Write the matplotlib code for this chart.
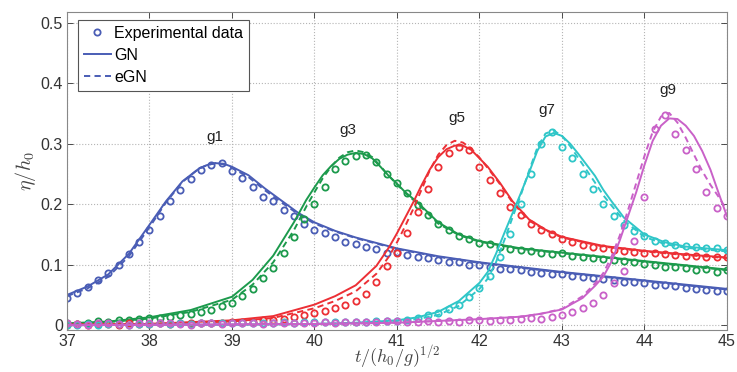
import numpy as np
import matplotlib
matplotlib.use("Agg")
import matplotlib.pyplot as plt
from matplotlib.ticker import FuncFormatter

plt.rcParams['font.family'] = ['Liberation Sans', 'DejaVu Sans']
plt.rcParams['mathtext.fontset'] = 'cm'

# colours of the five gauges
col = {'g1': '#4a5db5', 'g3': '#1c9a4c', 'g5': '#ec2f35', 'g7': '#2fc6c8', 'g9': '#c961c8'}

# ---- model curves (GN solid, eGN dashed) ----
t_g1 = [37.0, 37.25, 37.5, 37.75, 38.0, 38.2, 38.4, 38.6, 38.7, 38.8, 38.9, 39.0, 39.2, 39.4,
        39.6, 39.8, 40.0, 40.25, 40.5, 41.0, 41.5, 42.0, 42.5, 43.0, 43.5, 44.0, 44.5, 45.0]
gn_g1 = [0.050, 0.064, 0.084, 0.118, 0.166, 0.205, 0.238, 0.259, 0.265, 0.268, 0.267, 0.262, 0.248, 0.226,
         0.206, 0.186, 0.170, 0.156, 0.145, 0.127, 0.114, 0.104, 0.096, 0.088, 0.081, 0.074, 0.067, 0.060]
egn_g1 = [0.048, 0.061, 0.080, 0.114, 0.162, 0.203, 0.237, 0.259, 0.265, 0.268, 0.266, 0.260, 0.245, 0.223,
          0.203, 0.184, 0.168, 0.155, 0.144, 0.126, 0.113, 0.103, 0.095, 0.087, 0.080, 0.073, 0.066, 0.059]

t_g3 = [37.0, 37.5, 38.0, 38.5, 39.0, 39.25, 39.5, 39.75, 39.9, 40.0, 40.1, 40.2, 40.3, 40.4, 40.5, 40.6,
        40.7, 40.8, 40.9, 41.0, 41.1, 41.25, 41.5, 41.75, 42.0, 42.5, 43.0, 43.5, 44.0, 44.5, 45.0]
gn_g3 = [0.003, 0.006, 0.013, 0.025, 0.047, 0.075, 0.115, 0.170, 0.207, 0.228, 0.248, 0.263, 0.275, 0.282, 0.285, 0.283,
         0.276, 0.262, 0.247, 0.234, 0.220, 0.203, 0.170, 0.150, 0.139, 0.127, 0.120, 0.113, 0.106, 0.099, 0.092]
egn_g3 = [0.002, 0.005, 0.011, 0.022, 0.042, 0.067, 0.104, 0.157, 0.196, 0.220, 0.243, 0.262, 0.277, 0.286, 0.289, 0.286,
          0.278, 0.263, 0.247, 0.233, 0.219, 0.201, 0.168, 0.149, 0.138, 0.126, 0.119, 0.112, 0.105, 0.098, 0.091]

t_g5 = [37.0, 38.0, 39.0, 39.5, 40.0, 40.25, 40.5, 40.75, 40.9, 41.0, 41.1, 41.2, 41.3, 41.4, 41.5, 41.6,
        41.7, 41.8, 41.9, 42.0, 42.1, 42.25, 42.4, 42.6, 42.8, 43.0, 43.5, 44.0, 44.5, 45.0]
gn_g5 = [0.001, 0.002, 0.008, 0.015, 0.034, 0.048, 0.066, 0.098, 0.128, 0.152, 0.178, 0.204, 0.232, 0.258, 0.278, 0.291,
         0.297, 0.297, 0.290, 0.276, 0.262, 0.235, 0.205, 0.175, 0.158, 0.146, 0.131, 0.123, 0.117, 0.112]
egn_g5 = [0.001, 0.002, 0.006, 0.012, 0.028, 0.040, 0.056, 0.085, 0.113, 0.137, 0.164, 0.193, 0.225, 0.257, 0.282, 0.298,
          0.305, 0.302, 0.292, 0.277, 0.260, 0.233, 0.203, 0.173, 0.157, 0.145, 0.130, 0.122, 0.116, 0.111]

t_g7 = [37.0, 39.0, 40.0, 40.5, 41.0, 41.25, 41.5, 41.75, 42.0, 42.1, 42.2, 42.3, 42.4, 42.5, 42.6, 42.7, 42.8,
        42.9, 43.0, 43.1, 43.2, 43.3, 43.4, 43.5, 43.6, 43.75, 44.0, 44.25, 44.5, 44.75, 45.0]
gn_g7 = [0.000, 0.001, 0.002, 0.004, 0.008, 0.013, 0.022, 0.040, 0.070, 0.088, 0.118, 0.152, 0.185, 0.218, 0.252, 0.288, 0.312,
         0.318, 0.313, 0.300, 0.283, 0.265, 0.247, 0.224, 0.205, 0.178, 0.150, 0.137, 0.130, 0.127, 0.124]
egn_g7 = [0.000, 0.001, 0.002, 0.003, 0.006, 0.010, 0.017, 0.032, 0.060, 0.077, 0.104, 0.140, 0.178, 0.215, 0.255, 0.293, 0.317,
          0.322, 0.313, 0.296, 0.276, 0.256, 0.236, 0.215, 0.198, 0.173, 0.146, 0.134, 0.128, 0.125, 0.122]

t_g9 = [37.0, 40.0, 41.0, 41.5, 42.0, 42.5, 42.75, 43.0, 43.25, 43.4, 43.5, 43.6, 43.7, 43.8, 43.9, 44.0, 44.1,
        44.2, 44.3, 44.4, 44.5, 44.6, 44.7, 44.8, 44.9, 45.0]
gn_g9 = [0.000, 0.002, 0.004, 0.007, 0.010, 0.014, 0.019, 0.026, 0.045, 0.065, 0.080, 0.105, 0.140, 0.180, 0.220, 0.265, 0.305,
         0.330, 0.342, 0.341, 0.330, 0.313, 0.288, 0.257, 0.218, 0.180]
egn_g9 = [0.000, 0.002, 0.004, 0.007, 0.010, 0.014, 0.019, 0.027, 0.048, 0.069, 0.086, 0.113, 0.148, 0.190, 0.235, 0.280, 0.320,
          0.345, 0.351, 0.335, 0.310, 0.282, 0.255, 0.232, 0.212, 0.190]

# ---- experimental data (sampled every 0.125) ----
t_exp = np.linspace(37.0, 45.0, 65)
exp_g1 = [0.045, 0.053, 0.063, 0.074, 0.086, 0.099, 0.117, 0.138, 0.158, 0.180, 0.205, 0.224, 0.242, 0.256, 0.265, 0.268,
          0.255, 0.243, 0.228, 0.212, 0.205, 0.190, 0.180, 0.167, 0.158, 0.152, 0.146, 0.138, 0.134, 0.130, 0.126, 0.120,
          0.121, 0.116, 0.112, 0.111, 0.108, 0.104, 0.104, 0.100, 0.100, 0.097, 0.093, 0.093, 0.091, 0.088, 0.087, 0.084,
          0.084, 0.081, 0.080, 0.078, 0.077, 0.075, 0.072, 0.071, 0.070, 0.067, 0.066, 0.064, 0.062, 0.059, 0.058, 0.056,
          0.056]
exp_g3 = [0.003, 0.002, 0.004, 0.007, 0.006, 0.008, 0.009, 0.010, 0.012, 0.012, 0.014, 0.016, 0.018, 0.021, 0.025, 0.031,
          0.037, 0.048, 0.060, 0.078, 0.095, 0.120, 0.146, 0.176, 0.200, 0.228, 0.258, 0.272, 0.280, 0.281, 0.270, 0.250,
          0.235, 0.218, 0.198, 0.183, 0.168, 0.157, 0.148, 0.143, 0.136, 0.134, 0.130, 0.126, 0.124, 0.122, 0.120, 0.118,
          0.119, 0.114, 0.112, 0.111, 0.110, 0.107, 0.106, 0.104, 0.101, 0.100, 0.097, 0.097, 0.095, 0.092, 0.093, 0.088,
          0.091]
exp_g5 = [0.001, 0.002, 0.001, 0.002, 0.002, 0.001, 0.003, 0.002, 0.002, 0.003, 0.002, 0.003, 0.004, 0.003, 0.004, 0.004,
          0.005, 0.005, 0.006, 0.008, 0.009, 0.011, 0.014, 0.016, 0.020, 0.024, 0.028, 0.033, 0.040, 0.052, 0.072, 0.098,
          0.120, 0.152, 0.188, 0.226, 0.262, 0.285, 0.295, 0.290, 0.262, 0.240, 0.218, 0.195, 0.182, 0.168, 0.157, 0.150,
          0.143, 0.137, 0.132, 0.129, 0.128, 0.125, 0.123, 0.121, 0.120, 0.120, 0.117, 0.116, 0.115, 0.114, 0.113, 0.112,
          0.112]
exp_g7 = [0.001, 0.001, 0.002, 0.001, 0.002, 0.002, 0.001, 0.002, 0.002, 0.003, 0.002, 0.003, 0.002, 0.003, 0.003, 0.004,
          0.003, 0.004, 0.004, 0.003, 0.004, 0.005, 0.004, 0.005, 0.005, 0.005, 0.006, 0.005, 0.006, 0.006, 0.007, 0.007,
          0.007, 0.009, 0.012, 0.016, 0.020, 0.026, 0.034, 0.046, 0.062, 0.082, 0.112, 0.150, 0.200, 0.250, 0.300, 0.320,
          0.295, 0.276, 0.250, 0.226, 0.200, 0.181, 0.166, 0.155, 0.147, 0.140, 0.136, 0.133, 0.131, 0.130, 0.128, 0.127,
          0.125]
exp_g9 = [0.003, 0.002, 0.001, 0.003, 0.004, 0.002, 0.001, 0.003, 0.003, 0.004, 0.003, 0.002, 0.001, 0.003, 0.003, 0.002,
          0.003, 0.004, 0.003, 0.002, 0.003, 0.004, 0.004, 0.003, 0.004, 0.005, 0.004, 0.005, 0.006, 0.005, 0.006, 0.007,
          0.007, 0.006, 0.005, 0.007, 0.005, 0.007, 0.006, 0.008, 0.009, 0.007, 0.009, 0.008, 0.010, 0.012, 0.011, 0.014,
          0.017, 0.021, 0.028, 0.036, 0.050, 0.069, 0.090, 0.140, 0.212, 0.325, 0.348, 0.316, 0.290, 0.258, 0.220, 0.194,
          0.180]

gauges = ['g1', 'g3', 'g5', 'g7', 'g9']
model_t = [t_g1, t_g3, t_g5, t_g7, t_g9]
model_gn = [gn_g1, gn_g3, gn_g5, gn_g7, gn_g9]
model_egn = [egn_g1, egn_g3, egn_g5, egn_g7, egn_g9]
exp_data = [exp_g1, exp_g3, exp_g5, exp_g7, exp_g9]

# label positions above each peak
lab_x = [38.79, 40.41, 41.73, 42.82, 44.28]
lab_y = [0.311, 0.323, 0.343, 0.356, 0.389]

fig = plt.figure(figsize=(7.37, 3.72), dpi=100)
ax = fig.add_axes([0.0909, 0.1129, 0.8955, 0.8548])

for k, g in enumerate(gauges):
    c = col[g]
    ax.plot(t_exp, exp_data[k], 'o', ls='none', mfc='none', mec=c, ms=4.5, mew=1.3,
            label='Experimental data' if k == 0 else None)
    ax.plot(model_t[k], model_gn[k], '-', color=c, lw=1.4, label='GN' if k == 0 else None)
    ax.plot(model_t[k], model_egn[k], '--', color=c, lw=1.4, dashes=(3.2, 2.2),
            label='eGN' if k == 0 else None)
    ax.text(lab_x[k], lab_y[k], g, ha='center', va='center', fontsize=11, color='#222222')

ax.set_xlim(37, 45)
ax.set_ylim(-0.008, 0.518)
ax.set_xticks(np.arange(37, 46, 1))
ax.set_yticks(np.arange(0, 0.51, 0.1))
ax.yaxis.set_major_formatter(FuncFormatter(lambda v, p: '%g' % round(v, 2)))
ax.tick_params(direction='in', top=True, right=True, length=4, width=0.6,
               labelsize=11.5, colors='#333333', pad=3)
ax.grid(True, ls=':', color='#b5b5b5', lw=0.8)
for s in ax.spines.values():
    s.set_color('#888888')
    s.set_linewidth(0.8)

ax.set_xlabel(r'$t/(h_0/g)^{1/2}$', fontsize=13, color='#444444')
ax.xaxis.set_label_coords(0.5, -0.04)
ax.set_ylabel(r'$\eta/h_0$', fontsize=14.5, labelpad=2, color='#444444')

leg = ax.legend(loc='upper left', bbox_to_anchor=(0.0167, 0.975), fontsize=11.5, numpoints=1,
                handlelength=1.7, handletextpad=0.2, borderpad=0.35, labelspacing=0.45,
                fancybox=False, framealpha=1, borderaxespad=0)
leg.get_frame().set_edgecolor('#555555')
leg.get_frame().set_linewidth(0.8)

fig.savefig('out.png', dpi=100)
